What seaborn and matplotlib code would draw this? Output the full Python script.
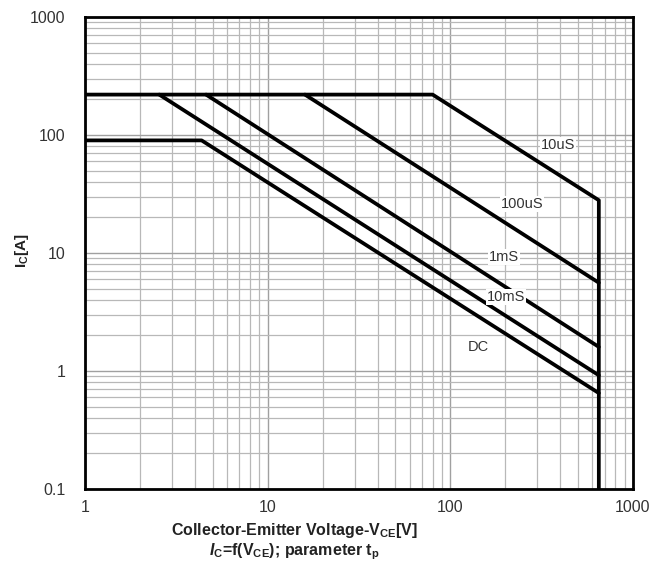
import matplotlib
matplotlib.use("Agg")
import matplotlib.pyplot as plt
import seaborn as sns
import pandas as pd

# Safe operating area curves
vce_10us = [1, 80, 650, 650]
ic_10us = [220, 220, 28, 0.1]
vce_100us = [16, 650]
ic_100us = [220, 5.6]
vce_1ms = [4.6, 650]
ic_1ms = [220, 1.6]
vce_10ms = [2.55, 650]
ic_10ms = [220, 0.92]
vce_dc = [1, 4.35, 650]
ic_dc = [90, 90, 0.65]

labels = ["10uS", "100uS", "1mS", "10mS", "DC"]
label_x = [388, 247, 196, 201, 143]
label_y = [82, 26, 9.25, 4.24, 1.6]

x_ticks = [1, 10, 100, 1000]
y_ticks = [0.1, 1, 10, 100, 1000]

sns.set_style("white")
plt.rcParams["font.family"] = ["Liberation Sans", "DejaVu Sans"]
plt.rcParams["mathtext.fontset"] = "custom"
plt.rcParams["mathtext.rm"] = "Liberation Sans:bold"
plt.rcParams["mathtext.it"] = "Liberation Sans:bold:italic"
plt.rcParams["mathtext.bf"] = "Liberation Sans:bold"

fig = plt.figure(figsize=(6.67, 5.65), dpi=100)
ax = fig.add_axes([85 / 667, 1 - 489 / 565, 548 / 667, 472 / 565])

curves = [
    (vce_10us, ic_10us),
    (vce_100us, ic_100us),
    (vce_1ms, ic_1ms),
    (vce_10ms, ic_10ms),
    (vce_dc, ic_dc),
]
for vx, iy in curves:
    df = pd.DataFrame({"vce": vx, "ic": iy})
    sns.lineplot(data=df, x="vce", y="ic", sort=False, estimator=None,
                 color="black", lw=2.7, ax=ax, zorder=3)

ax.set_xscale("log")
ax.set_yscale("log")
ax.set_xlim(1, 1000)
ax.set_ylim(0.1, 1000)
ax.set_xticks(x_ticks)
ax.set_xticklabels([str(t) for t in x_ticks])
ax.set_yticks(y_ticks)
ax.set_yticklabels([str(t) for t in y_ticks])
ax.tick_params(axis="both", which="both", length=0, labelsize=11.5,
               labelcolor="#333333")
ax.tick_params(axis="x", pad=8)
ax.tick_params(axis="y", pad=14)

ax.grid(True, which="major", color="#a0a0a0", lw=1.0)
ax.grid(True, which="minor", color="#b8b8b8", lw=0.9)
for s in ax.spines.values():
    s.set_color("black")
    s.set_linewidth(2)

for t, lx, ly in zip(labels, label_x, label_y):
    ax.text(lx, ly, t, ha="center", va="center", fontsize=10.5,
            color="#333333", zorder=4,
            bbox=dict(facecolor="white", edgecolor="none", pad=0.5))

ax.set_xlabel("")
ax.set_ylabel(r"I$_{\mathregular{C}}$[A]", fontsize=11, fontweight="bold",
              color="#222222")
ax.yaxis.set_label_coords(-0.098, 0.506)

fig.text(294 / 667, 1 - 530 / 565, r"Collector-Emitter Voltage-V$_{\mathrm{CE}}$[V]",
         ha="center", va="center", fontsize=11.5, fontweight="bold", color="#222222")
fig.text(294 / 667, 1 - 552 / 565, r"$I$$_{\mathrm{C}}$=f(V$_{\mathrm{CE}}$); parameter t$_{\mathrm{p}}$",
         ha="center", va="center", fontsize=11.5, fontweight="bold", color="#222222")

fig.savefig("out.png", dpi=100)
